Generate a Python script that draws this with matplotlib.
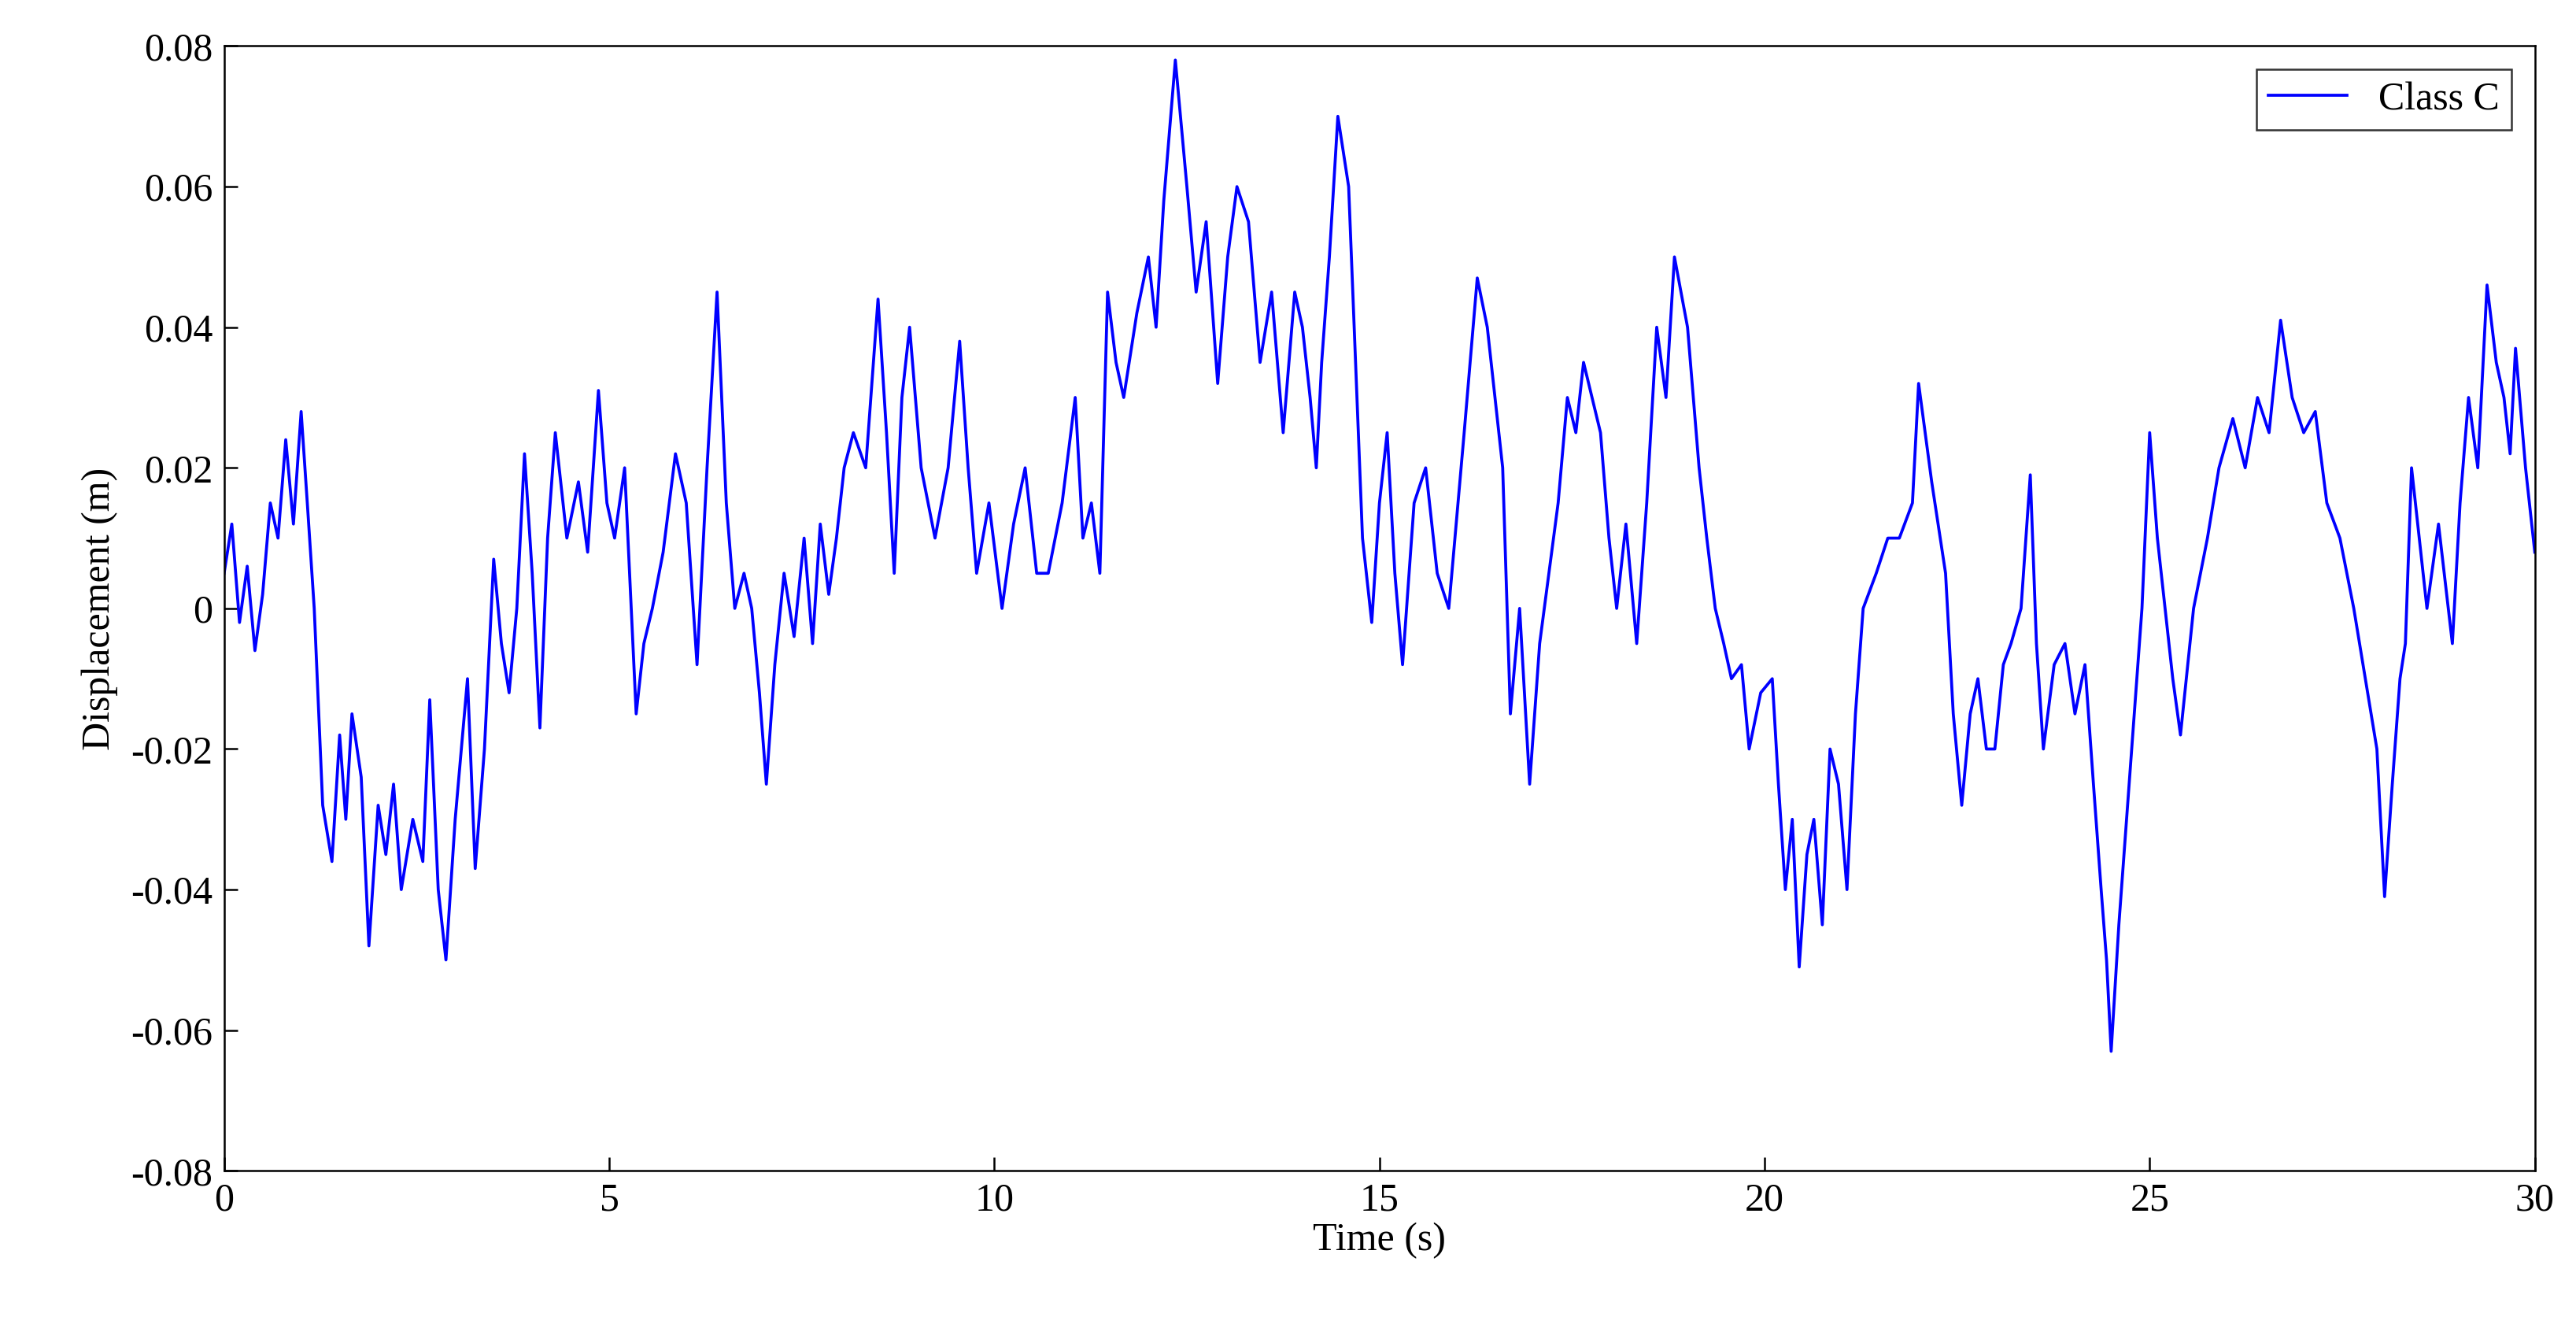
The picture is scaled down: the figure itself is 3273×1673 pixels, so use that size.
import matplotlib.pyplot as plt

# values (time in s, displacement in m)
time_s = [0.0, 0.1, 0.2, 0.3, 0.4, 0.5, 0.6, 0.7, 0.8, 0.9, 1.0, 1.08, 1.17, 1.28, 1.4, 1.5, 1.58,
          1.66, 1.78, 1.88, 2.0, 2.1, 2.2, 2.3, 2.45, 2.58, 2.67, 2.78, 2.88, 3.0, 3.16, 3.26, 3.38,
          3.5, 3.6, 3.7, 3.8, 3.9, 4.0, 4.1, 4.2, 4.3, 4.45, 4.6, 4.72, 4.86, 4.97, 5.07, 5.2, 5.35,
          5.45, 5.56, 5.7, 5.86, 6.0, 6.14, 6.27, 6.4, 6.52, 6.63, 6.75, 6.85, 6.95, 7.04, 7.15, 7.27,
          7.4, 7.53, 7.64, 7.74, 7.85, 7.95, 8.05, 8.17, 8.33, 8.49, 8.6, 8.7, 8.8, 8.9, 9.05, 9.23,
          9.4, 9.55, 9.66, 9.77, 9.93, 10.1, 10.25, 10.4, 10.55, 10.7, 10.88, 11.05, 11.15, 11.26,
          11.37, 11.47, 11.58, 11.68, 11.85, 12.0, 12.1, 12.2, 12.35, 12.5, 12.62, 12.75, 12.9, 13.03,
          13.15, 13.3, 13.45, 13.6, 13.75, 13.9, 14.0, 14.1, 14.18, 14.25, 14.35, 14.46, 14.6, 14.78,
          14.9, 15.0, 15.1, 15.2, 15.3, 15.45, 15.6, 15.75, 15.9, 16.1, 16.27, 16.4, 16.5, 16.6, 16.7,
          16.82, 16.95, 17.08, 17.2, 17.32, 17.44, 17.55, 17.65, 17.76, 17.87, 17.98, 18.08, 18.2,
          18.34, 18.47, 18.6, 18.72, 18.83, 19.0, 19.15, 19.25, 19.36, 19.47, 19.57, 19.7, 19.8,
          19.95, 20.1, 20.18, 20.27, 20.36, 20.45, 20.55, 20.64, 20.75, 20.85, 20.96, 21.07, 21.18,
          21.28, 21.45, 21.6, 21.75, 21.92, 22.0, 22.17, 22.35, 22.45, 22.56, 22.67, 22.77, 22.88,
          22.99, 23.1, 23.2, 23.33, 23.45, 23.53, 23.62, 23.76, 23.9, 24.03, 24.16, 24.27, 24.37,
          24.44, 24.5, 24.6, 24.7, 24.8, 24.9, 25.0, 25.1, 25.2, 25.3, 25.4, 25.57, 25.75, 25.9,
          26.08, 26.24, 26.4, 26.55, 26.7, 26.85, 27.0, 27.15, 27.3, 27.47, 27.65, 27.8, 27.95, 28.05,
          28.15, 28.25, 28.32, 28.4, 28.5, 28.6, 28.75, 28.93, 29.03, 29.14, 29.26, 29.38, 29.5,
          29.6, 29.68, 29.75, 29.88, 30.0]
displacement_m = [0.005, 0.012, -0.002, 0.006, -0.006, 0.002, 0.015, 0.01, 0.024, 0.012, 0.028,
                  0.015, 0.0, -0.028, -0.036, -0.018, -0.03, -0.015, -0.024, -0.048, -0.028, -0.035,
                  -0.025, -0.04, -0.03, -0.036, -0.013, -0.04, -0.05, -0.03, -0.01, -0.037, -0.02,
                  0.007, -0.005, -0.012, 0.0, 0.022, 0.005, -0.017, 0.01, 0.025, 0.01, 0.018, 0.008,
                  0.031, 0.015, 0.01, 0.02, -0.015, -0.005, 0.0, 0.008, 0.022, 0.015, -0.008, 0.02,
                  0.045, 0.015, 0.0, 0.005, 0.0, -0.012, -0.025, -0.008, 0.005, -0.004, 0.01, -0.005,
                  0.012, 0.002, 0.01, 0.02, 0.025, 0.02, 0.044, 0.025, 0.005, 0.03, 0.04, 0.02, 0.01,
                  0.02, 0.038, 0.02, 0.005, 0.015, 0.0, 0.012, 0.02, 0.005, 0.005, 0.015, 0.03, 0.01,
                  0.015, 0.005, 0.045, 0.035, 0.03, 0.042, 0.05, 0.04, 0.058, 0.078, 0.06, 0.045,
                  0.055, 0.032, 0.05, 0.06, 0.055, 0.035, 0.045, 0.025, 0.045, 0.04, 0.03, 0.02, 0.035,
                  0.05, 0.07, 0.06, 0.01, -0.002, 0.015, 0.025, 0.005, -0.008, 0.015, 0.02, 0.005,
                  0.0, 0.025, 0.047, 0.04, 0.03, 0.02, -0.015, 0.0, -0.025, -0.005, 0.005, 0.015, 0.03,
                  0.025, 0.035, 0.03, 0.025, 0.01, 0.0, 0.012, -0.005, 0.015, 0.04, 0.03, 0.05, 0.04,
                  0.02, 0.01, 0.0, -0.005, -0.01, -0.008, -0.02, -0.012, -0.01, -0.025, -0.04, -0.03,
                  -0.051, -0.035, -0.03, -0.045, -0.02, -0.025, -0.04, -0.015, 0.0, 0.005, 0.01, 0.01,
                  0.015, 0.032, 0.018, 0.005, -0.015, -0.028, -0.015, -0.01, -0.02, -0.02, -0.008,
                  -0.005, 0.0, 0.019, -0.005, -0.02, -0.008, -0.005, -0.015, -0.008, -0.025, -0.04,
                  -0.05, -0.063, -0.045, -0.03, -0.015, 0.0, 0.025, 0.01, 0.0, -0.01, -0.018, 0.0, 0.01,
                  0.02, 0.027, 0.02, 0.03, 0.025, 0.041, 0.03, 0.025, 0.028, 0.015, 0.01, 0.0, -0.01,
                  -0.02, -0.041, -0.025, -0.01, -0.005, 0.02, 0.01, 0.0, 0.012, -0.005, 0.015, 0.03,
                  0.02, 0.046, 0.035, 0.03, 0.022, 0.037, 0.02, 0.008]

plt.rcParams["font.family"] = ["Liberation Serif", "DejaVu Serif"]
plt.rcParams["font.size"] = 12

figure, axis = plt.subplots(figsize=(10.91, 5.577), dpi=300)
figure.subplots_adjust(left=0.087, right=0.984, top=0.965, bottom=0.111)

axis.plot(time_s, displacement_m, color="#0000FF", linewidth=0.9, label="Class C")

axis.set_xlim(0, 30)
axis.set_ylim(-0.08, 0.08)
axis.set_xticks(range(0, 31, 5))
axis.set_yticks([-0.08, -0.06, -0.04, -0.02, 0, 0.02, 0.04, 0.06, 0.08])
axis.set_yticklabels(["-0.08", "-0.06", "-0.04", "-0.02", "0", "0.02", "0.04", "0.06", "0.08"])
axis.tick_params(direction="in", top=False, right=False, length=4, width=0.6)
for spine in axis.spines.values():
    spine.set_linewidth(0.6)
axis.set_xlabel("Time (s)", labelpad=1)
axis.set_ylabel("Displacement (m)", labelpad=4)

legend = axis.legend(loc="upper right", fancybox=False, edgecolor="black",
                     borderaxespad=0.6, handlelength=2.0, borderpad=0.3)
legend.get_frame().set_linewidth(0.6)

figure.savefig("out.png", dpi=300, facecolor="white")
plt.close(figure)
